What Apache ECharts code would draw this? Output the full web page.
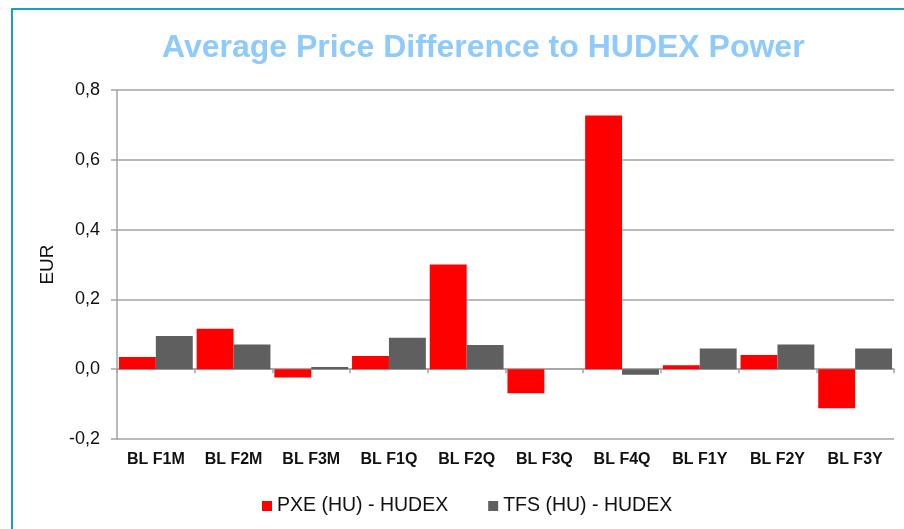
<!DOCTYPE html>
<html>
<head>
<meta charset="utf-8">
<script src="https://cdn.jsdelivr.net/npm/echarts@6/dist/echarts.min.js"></script>
<style>
    html, body {
        margin: 0;
        padding: 0;
        background: #fff;
    }

    .frame {
        position: absolute;
        left: 11px;
        top: 8px;
        width: 1000px;
        height: 600px;
        border-left: 2px solid #1a9fc2;
        border-top: 2px solid #1a9fc2;
    }

    #chart {
        position: absolute;
        left: 0;
        top: 0;
        width: 904px;
        height: 529px;
    }
</style>
</head>
<body>
<div class="frame"></div>
<div id="chart"></div>

<script>
const categories = ["BL F1M", "BL F2M", "BL F3M", "BL F1Q", "BL F2Q", "BL F3Q", "BL F4Q", "BL F1Y", "BL F2Y", "BL F3Y"];
const pxeValues = [0.035, 0.116, -0.024, 0.038, 0.300, -0.069, 0.727, 0.011, 0.041, -0.112];
const tfsValues = [0.095, 0.071, 0.006, 0.090, 0.069, 0, -0.016, 0.059, 0.071, 0.059];
const seriesNames = ["PXE (HU) - HUDEX", "TFS (HU) - HUDEX"];

const chart = echarts.init(document.getElementById("chart"));

const axisGray = "#a3a3a3";
const font = "Liberation Sans";

chart.setOption({
    animation: false,
    title: {
        text: "Average Price Difference to HUDEX Power",
        left: 157,
        top: 27,
        textStyle: {
            color: "#8fcafd",
            fontSize: 32,
            fontWeight: "bold",
            fontFamily: font,
        },
    },
    legend: {
        left: 262,
        top: 496,
        padding: 0,
        icon: "rect",
        itemWidth: 10,
        itemHeight: 10,
        itemGap: 40,
        textStyle: {
            color: "#111",
            fontSize: 19.5,
            fontFamily: font,
        },
        data: seriesNames,
    },
    grid: {
        left: 117,
        right: 10,
        top: 90,
        bottom: 90,
    },
    xAxis: [
        {
            type: "category",
            data: categories,
            position: "bottom",
            axisLine: { show: false, onZero: false },
            axisTick: { show: false },
            axisLabel: {
                margin: 13,
                color: "#111",
                fontSize: 16,
                fontWeight: "bold",
                fontFamily: font,
            },
        },
        {
            // zero line with boundary ticks
            type: "category",
            data: categories,
            position: "bottom",
            axisLine: { show: true, onZero: true, lineStyle: { color: axisGray, width: 1.5 } },
            axisTick: { show: true, length: 4, lineStyle: { color: axisGray, width: 1.5 } },
            axisLabel: { show: false },
        },
    ],
    yAxis: {
        type: "value",
        min: -0.2,
        max: 0.8,
        interval: 0.2,
        name: "EUR",
        nameLocation: "middle",
        nameRotate: 90,
        nameGap: 60,
        nameTextStyle: {
            color: "#111",
            fontSize: 19,
            fontFamily: font,
        },
        axisLine: { show: true, lineStyle: { color: axisGray, width: 1.5 } },
        axisTick: { show: true, length: 6, lineStyle: { color: axisGray, width: 1.5 } },
        axisLabel: {
            margin: 17,
            color: "#111",
            fontSize: 18,
            fontFamily: font,
            formatter: (v) => v.toFixed(1).replace(".", ","),
        },
        splitLine: { show: true, lineStyle: { color: axisGray, width: 1.5 } },
    },
    series: [
        {
            name: seriesNames[0],
            type: "bar",
            data: pxeValues,
            barGap: "0%",
            barCategoryGap: "5%",
            itemStyle: { color: "#ff0000" },
        },
        {
            name: seriesNames[1],
            type: "bar",
            data: tfsValues,
            barGap: "0%",
            barCategoryGap: "5%",
            itemStyle: { color: "#5f5f5f" },
        },
    ],
});
</script>
</body>
</html>
